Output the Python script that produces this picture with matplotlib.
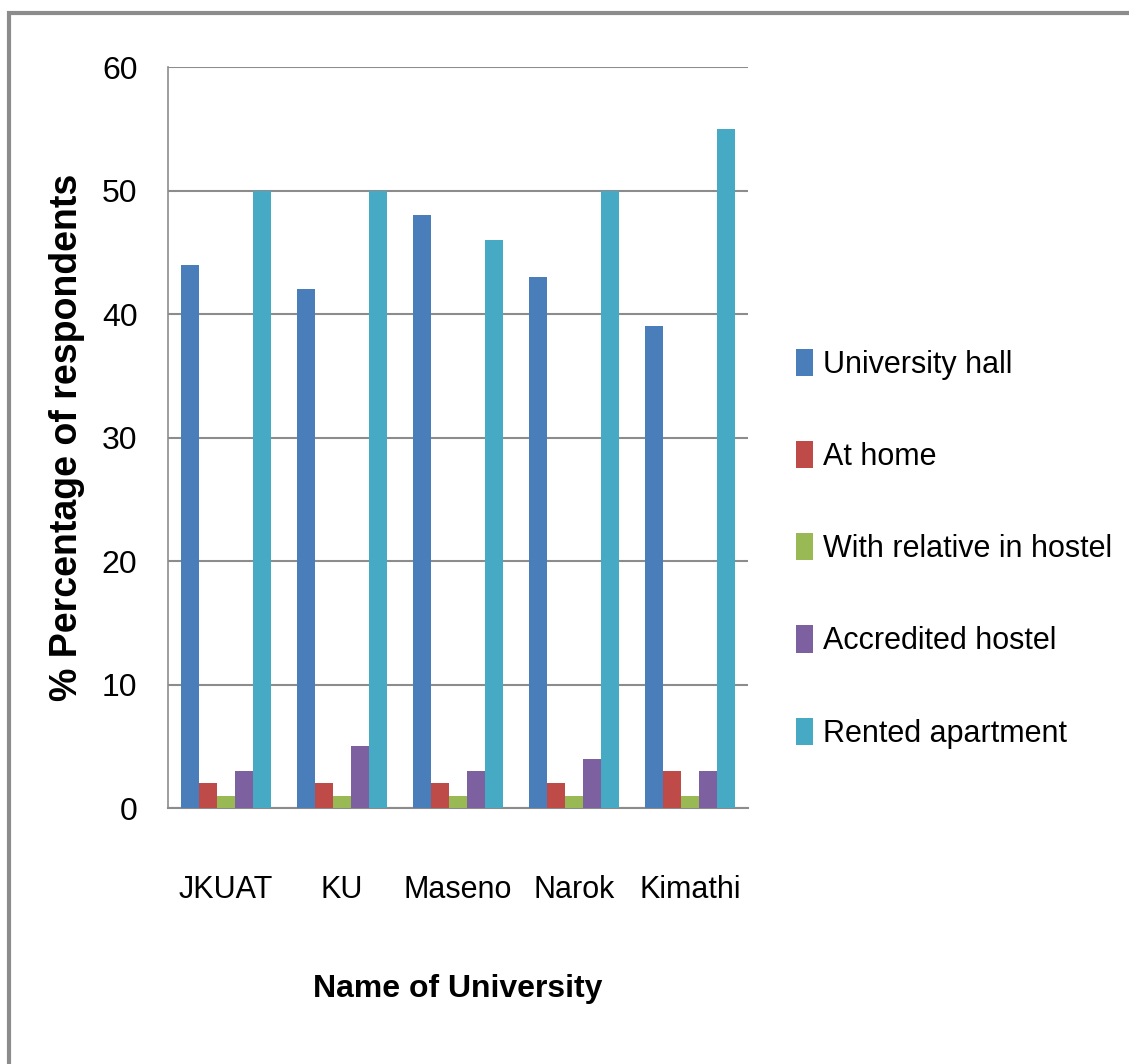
import matplotlib
matplotlib.use("Agg")
import matplotlib.pyplot as plt
from matplotlib import font_manager
import numpy as np

# data
universities = ["JKUAT", "KU", "Maseno", "Narok", "Kimathi"]
series_names = ["University hall", "At home", "With relative in hostel",
                "Accredited hostel", "Rented apartment"]
university_hall = [44, 42, 48, 43, 39]
at_home = [2, 2, 2, 2, 3]
with_relative = [1, 1, 1, 1, 1]
accredited_hostel = [3, 5, 3, 4, 3]
rented_apartment = [50, 50, 46, 50, 55]
yticks = [0, 10, 20, 30, 40, 50, 60]

colors = ["#4a7ebb", "#be4b48", "#98b954", "#7d60a0", "#46aac5"]

available = {f.name for f in font_manager.fontManager.ttflist}
narrow = "Liberation Sans Narrow" if "Liberation Sans Narrow" in available else "Liberation Sans"

fig = plt.figure(figsize=(11.29, 10.64), dpi=100)
# outer frame of the chart area
fig.patches.append(plt.Rectangle((0.008, -0.01), 1.2, 0.998, transform=fig.transFigure,
                                 fill=False, edgecolor="#8c8c8c", linewidth=3))

ax = fig.add_axes([0.1488, 0.2406, 0.5137, 0.6964])
values = [university_hall, at_home, with_relative, accredited_hostel, rented_apartment]
x = np.arange(len(universities))
bw = 0.155
for i, (name, vals) in enumerate(zip(series_names, values)):
    ax.bar(x + (i - 2) * bw, vals, bw, color=colors[i], label=name, zorder=3)

ax.set_xlim(-0.5, len(universities) - 0.5)
ax.set_ylim(0, 60)
ax.set_yticks(yticks)
ax.yaxis.grid(True, color="#8c8c8c", linewidth=1.5, zorder=0)
ax.tick_params(axis="both", length=0, labelsize=23)
ax.tick_params(axis="x", pad=48)
ax.tick_params(axis="y", pad=22)
for lab in ax.get_yticklabels():
    lab.set_fontfamily(narrow)
ax.set_xticks(x)
ax.set_xticklabels(universities, fontfamily=narrow, fontsize=22)
for s in ["top", "right"]:
    ax.spines[s].set_visible(False)
ax.spines["left"].set_color("#8c8c8c")
ax.spines["bottom"].set_color("#8c8c8c")
ax.spines["left"].set_linewidth(1.2)
ax.spines["bottom"].set_linewidth(1.5)

ax.set_ylabel("% Percentage of respondents", fontsize=27, fontweight="bold",
              fontfamily="Liberation Sans", labelpad=12)
ax.set_xlabel("Name of University", fontsize=23, fontweight="bold",
              fontfamily=narrow, labelpad=50)

leg = ax.legend(loc="center left", bbox_to_anchor=(1.035, 0.35), frameon=False,
                prop={"family": narrow, "size": 22}, handlelength=0.55, handleheight=1.0,
                handletextpad=0.35, labelspacing=2.0)

fig.savefig("out.png", dpi=100)
